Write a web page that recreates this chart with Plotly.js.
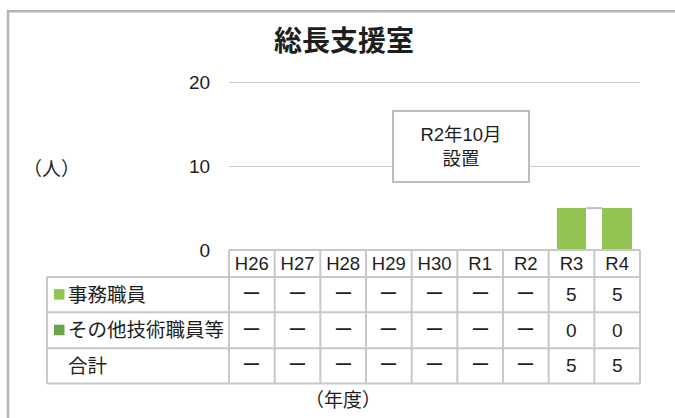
<!DOCTYPE html>
<html>
<head>
<meta charset="utf-8">
<script src="https://cdn.plot.ly/plotly-3.0.1.min.js"></script>
<style>html,body{margin:0;padding:0;background:#fff;}#chart{width:675px;height:418px;}</style>
</head>
<body>
<div id="chart"></div>
<script>
// ---- data ----
const categories = ['H26','H27','H28','H29','H30','R1','R2','R3','R4'];
const officeStaff = [null,null,null,null,null,null,null,5,5];
const otherStaff  = [null,null,null,null,null,null,null,0,0];
const totalStaff  = [null,null,null,null,null,null,null,5,5];
const seriesNames = ['事務職員','その他技術職員等'];
const totalLabel = '合計';
const chartTitle = '総長支援室';
const unitLabel = '（人）';
const yearLabel = '（年度）';
const noteText = 'R2年10月<br>設置';

// ---- styling ----
const FONT = 'Liberation Sans, Noto Sans CJK JP, sans-serif';
const TXT = '#1e1e1e';
const GRID = '#c8c8c8';
const colors = ['#92c353', '#6aa44b'];
const yMax = 20.3;
const L = 229, R = 640, B = 250, W = 675, Hh = 418;
const T = 83 - (yMax - 20) * (167 / 20);
const PW = R - L, PH = B - T;
const px = v => (v - L) / PW;
const py = v => (B - v) / PH;
const n = categories.length;
const bargap = 0.35;

const traces = [
  {type:'bar', name:seriesNames[0], x:categories, y:officeStaff, marker:{color:colors[0]}, hoverinfo:'skip'},
  {type:'bar', name:seriesNames[1], x:categories, y:otherStaff, marker:{color:colors[1]}, hoverinfo:'skip'}
];

const shapes = [];
const annotations = [];

// series lines between stacked bars
for (let i = 0; i < n - 1; i++) {
  if (totalStaff[i] != null && totalStaff[i+1] != null) {
    shapes.push({type:'line', xref:'x', yref:'y', x0:i + (1-bargap)/2, x1:i + 1 - (1-bargap)/2,
      y0:totalStaff[i], y1:totalStaff[i+1], line:{color:'#bdbdbd', width:2}});
  }
}

// outer frame
shapes.push({type:'line', xref:'paper', yref:'paper', x0:px(8), x1:px(8), y0:py(11), y1:py(420), line:{color:'#b5b5b5', width:2.5}});
shapes.push({type:'line', xref:'paper', yref:'paper', x0:px(7), x1:px(680), y0:py(12), y1:py(12), line:{color:'#b5b5b5', width:2.5}});

// data table grid
const rowY = [250, 277, 312, 348, 383];
const tableLeft = 47;
const lineStyle = {color:GRID, width:2};
shapes.push({type:'line', xref:'paper', yref:'paper', x0:0, x1:1, y0:py(rowY[0]), y1:py(rowY[0]), line:lineStyle});
for (let r = 1; r < rowY.length; r++) {
  shapes.push({type:'line', xref:'paper', yref:'paper', x0:px(tableLeft), x1:1, y0:py(rowY[r]), y1:py(rowY[r]), line:lineStyle});
}
for (let i = 0; i <= n; i++) {
  shapes.push({type:'line', xref:'paper', yref:'paper', x0:i/n, x1:i/n, y0:py(rowY[0]), y1:py(rowY[4]), line:lineStyle});
}
shapes.push({type:'line', xref:'paper', yref:'paper', x0:px(tableLeft), x1:px(tableLeft), y0:py(rowY[1]), y1:py(rowY[4]), line:lineStyle});

// row labels + legend keys
const rowSeries = [officeStaff, otherStaff, totalStaff];
const rowNames = [seriesNames[0], seriesNames[1], totalLabel];
for (let r = 0; r < 3; r++) {
  const cy = (rowY[r+1] + rowY[r+2]) / 2;
  if (r < 2) {
    shapes.push({type:'rect', xref:'paper', yref:'paper', x0:px(54), x1:px(64.5), y0:py(cy-5.5), y1:py(cy+5), fillcolor:colors[r], line:{width:0}});
  }
  annotations.push({xref:'paper', yref:'paper', x:px(66), y:py(cy), xanchor:'left', yanchor:'middle', showarrow:false,
    text:rowNames[r], font:{family:FONT, size:19.5, color:TXT}});
  const vals = rowSeries[r];
  for (let i = 0; i < n; i++) {
    annotations.push({xref:'paper', yref:'paper', x:(i+0.5)/n, y:py(cy), xanchor:'center', yanchor:'middle', showarrow:false,
      text: vals[i] == null ? 'ー' : String(vals[i]), font:{family:FONT, size:19, color:TXT}});
  }
}

// unit label, year label, note box
annotations.push({xref:'paper', yref:'paper', x:px(51), y:py(170), xanchor:'center', yanchor:'middle', showarrow:false,
  text:unitLabel, font:{family:FONT, size:19, color:TXT}});
annotations.push({xref:'paper', yref:'paper', x:px(343), y:py(400), xanchor:'center', yanchor:'middle', showarrow:false,
  text:yearLabel, font:{family:FONT, size:19, color:TXT}});
annotations.push({xref:'paper', yref:'paper', x:px(461), y:py(147), xanchor:'center', yanchor:'middle', showarrow:false,
  text:noteText, font:{family:FONT, size:18.5, color:TXT}, bgcolor:'#ffffff', bordercolor:'#bdbdbd', borderwidth:2,
  borderpad:0, width:134, height:69, align:'center'});

const layout = {
  width: W, height: Hh,
  margin: {l:L, r:W-R, t:T, b:Hh-B, pad:0},
  paper_bgcolor:'#ffffff', plot_bgcolor:'#ffffff',
  showlegend:false,
  barmode:'stack', bargap:bargap,
  font:{family:FONT, color:TXT},
  title:{text:chartTitle, x:344/W, xanchor:'center', y:1-41/Hh, yanchor:'middle', font:{family:FONT, size:28, color:TXT, weight:'bold'}},
  xaxis:{type:'category', categoryorder:'array', categoryarray:categories, range:[-0.5, n-0.5], fixedrange:true,
    showgrid:false, zeroline:false, showline:false, ticks:'', tickfont:{family:FONT, size:18.5, color:TXT}},
  yaxis:{range:[0,yMax], dtick:10, tick0:0, showgrid:true, gridcolor:GRID, gridwidth:1.5, zeroline:false, showline:false,
    ticks:'outside', ticklen:14, tickcolor:'rgba(0,0,0,0)', tickfont:{family:FONT, size:19, color:TXT}, fixedrange:true},
  shapes: shapes,
  annotations: annotations
};

Plotly.newPlot('chart', traces, layout, {displayModeBar:false, staticPlot:true});
</script>
</body>
</html>
